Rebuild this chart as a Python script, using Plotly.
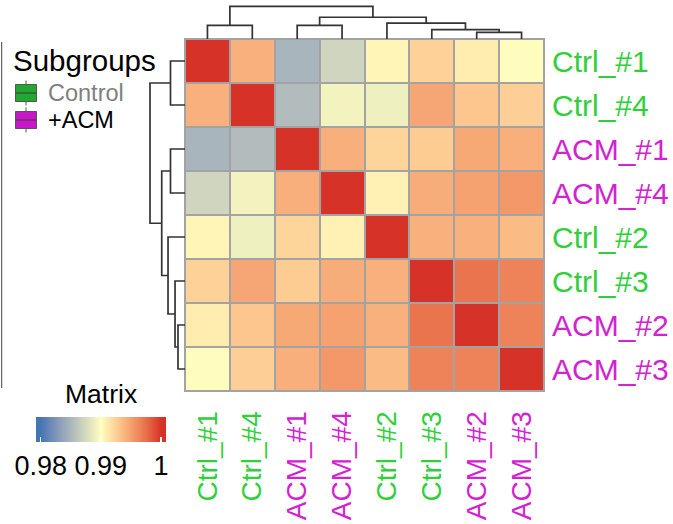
import plotly.graph_objects as go

# ---------------- data ----------------
samples = ["Ctrl_#1", "Ctrl_#4", "ACM_#1", "ACM_#4", "Ctrl_#2", "Ctrl_#3", "ACM_#2", "ACM_#3"]
groups = ["Control", "Control", "+ACM", "+ACM", "Control", "Control", "+ACM", "+ACM"]

corr = [
    [1.0000, 0.9941, 0.9849, 0.9871, 0.9905, 0.9924, 0.9910, 0.9901],
    [0.9941, 1.0000, 0.9854, 0.9892, 0.9890, 0.9947, 0.9930, 0.9925],
    [0.9849, 0.9854, 1.0000, 0.9942, 0.9922, 0.9927, 0.9946, 0.9942],
    [0.9871, 0.9892, 0.9942, 1.0000, 0.9907, 0.9943, 0.9949, 0.9954],
    [0.9905, 0.9890, 0.9922, 0.9907, 1.0000, 0.9941, 0.9941, 0.9936],
    [0.9924, 0.9947, 0.9927, 0.9943, 0.9941, 1.0000, 0.9972, 0.9965],
    [0.9910, 0.9930, 0.9946, 0.9949, 0.9941, 0.9972, 1.0000, 0.9965],
    [0.9901, 0.9925, 0.9942, 0.9954, 0.9936, 0.9965, 0.9965, 1.0000],
]

# dendrogram merges (left, right, height); ints = leaf index, "mN" = N-th merge
merges = [
    (0, 1, 0.415),
    (2, 3, 0.415),
    (6, 7, 0.20),
    (5, "m2", 0.285),
    (4, "m3", 0.485),
    ("m1", "m4", 0.665),
    ("m0", "m5", 1.0),
]

color_breaks = [0.98, 0.99, 1.0]
color_values = ["#4575B4", "#FFFFBF", "#D73027"]
legend_ticks = [0.98, 0.99, 1.0]
legend_ticktext = ["0.98", "0.99", "1"]
group_names = ["Control", "+ACM"]

# ---------------- styles ----------------
W, H = 673, 524
FONT = "Liberation Sans, Arial, sans-serif"
label_colors = {"Control": "#30D03A", "+ACM": "#D222D2"}
key_fill = {"Control": "#22A82E", "+ACM": "#C816C8"}
legend_text_color = {"Control": "#7F7F7F", "+ACM": "#000000"}
grid_color = "#A3A3A3"
dendro_color = "#333333"

hm_x0, hm_x1, hm_y0, hm_y1 = 185, 544, 39, 391
top_root_px, top_dom_px = 6.3, 4
left_root_px, left_dom_px = 150, 146

px = lambda v: v / W
py = lambda v: 1 - v / H


# ---------------- LAB colour ramp (like colorRamp2) ----------------
def hex2rgb(h):
    h = h.lstrip("#")
    return [int(h[i:i + 2], 16) / 255 for i in (0, 2, 4)]


def rgb2lab(rgb):
    lin = [c / 12.92 if c <= 0.04045 else ((c + 0.055) / 1.055) ** 2.4 for c in rgb]
    X = 0.4124 * lin[0] + 0.3576 * lin[1] + 0.1805 * lin[2]
    Y = 0.2126 * lin[0] + 0.7152 * lin[1] + 0.0722 * lin[2]
    Z = 0.0193 * lin[0] + 0.1192 * lin[1] + 0.9505 * lin[2]
    def f(t):
        return t ** (1 / 3) if t > 0.008856 else 7.787 * t + 16 / 116
    fx, fy, fz = f(X / 0.95047), f(Y / 1.0), f(Z / 1.08883)
    return [116 * fy - 16, 500 * (fx - fy), 200 * (fy - fz)]


def lab2rgb(lab):
    L, a, b = lab
    fy = (L + 16) / 116
    fx = fy + a / 500
    fz = fy - b / 200
    def finv(t):
        return t ** 3 if t ** 3 > 0.008856 else (t - 16 / 116) / 7.787
    X, Y, Z = finv(fx) * 0.95047, finv(fy), finv(fz) * 1.08883
    r = 3.2406 * X - 1.5372 * Y - 0.4986 * Z
    g = -0.9689 * X + 1.8758 * Y + 0.0415 * Z
    bb = 0.0557 * X - 0.2040 * Y + 1.0570 * Z
    out = []
    for c in (r, g, bb):
        c = 12.92 * c if c <= 0.0031308 else 1.055 * c ** (1 / 2.4) - 0.055
        out.append(min(255, max(0, round(c * 255))))
    return "rgb(%d,%d,%d)" % tuple(out)


labs = [rgb2lab(hex2rgb(c)) for c in color_values]


def ramp(v):
    v = min(max(v, color_breaks[0]), color_breaks[-1])
    for i in range(len(color_breaks) - 1):
        lo, hi = color_breaks[i], color_breaks[i + 1]
        if v <= hi:
            t = (v - lo) / (hi - lo)
            return lab2rgb([labs[i][k] + t * (labs[i + 1][k] - labs[i][k]) for k in range(3)])
    return lab2rgb(labs[-1])


bar_x0 = 36
bar_len_px = 129.7
bar_top = 416.7
tick_span_px = 120.0  # distance between first and last legend tick
unit = (legend_ticks[-1] - legend_ticks[0]) / tick_span_px
pad_px = (bar_len_px - tick_span_px) / 2
zmin = legend_ticks[0] - pad_px * unit
zmax = legend_ticks[-1] + pad_px * unit
N = 60
colorscale = [[i / N, ramp(zmin + (zmax - zmin) * i / N)] for i in range(N + 1)]


# ---------------- dendrogram segments ----------------
def dendro(merges):
    pos, hgt = {}, {}
    xs, ys = [], []
    def get(k):
        if isinstance(k, int):
            return float(k), 0.0
        return pos[k], hgt[k]
    for i, (a, b, h) in enumerate(merges):
        pa, ha = get(a)
        pb, hb = get(b)
        xs += [pa, pa, pb, pb, None]
        ys += [ha, h, h, hb, None]
        pos["m%d" % i] = (pa + pb) / 2
        hgt["m%d" % i] = h
    return xs, ys


d_pos, d_h = dendro(merges)
root_h = max(m[2] for m in merges)
idx = list(range(len(samples)))

fig = go.Figure()
fig.add_trace(go.Heatmap(
    z=corr, x=idx, y=idx, zmin=zmin, zmax=zmax, colorscale=colorscale,
    xgap=2, ygap=2, hoverinfo="skip",
    colorbar=dict(
        orientation="h", x=px(bar_x0 + bar_len_px / 2), xanchor="center",
        y=py(bar_top), yanchor="top", len=bar_len_px, lenmode="pixels",
        thickness=25, thicknessmode="pixels", outlinewidth=0, xpad=0, ypad=0,
        tickvals=legend_ticks, ticktext=legend_ticktext, ticks="inside",
        ticklen=5, tickwidth=1.5, tickcolor="white",
        tickfont=dict(size=27, color="black", family=FONT),
    ),
))
fig.add_trace(go.Scatter(x=d_pos, y=d_h, xaxis="x", yaxis="y2", mode="lines",
                         line=dict(color=dendro_color, width=1.7), hoverinfo="skip",
                         showlegend=False))
fig.add_trace(go.Scatter(x=d_h, y=d_pos, xaxis="x3", yaxis="y", mode="lines",
                         line=dict(color=dendro_color, width=1.7), hoverinfo="skip",
                         showlegend=False))

ticktext = ["<span style='color:%s'>%s</span>" % (label_colors[g], s)
            for s, g in zip(samples, groups)]

fig.update_layout(
    width=W, height=H, margin=dict(l=0, r=0, t=0, b=0, autoexpand=False),
    paper_bgcolor="white", plot_bgcolor="white",
    font=dict(family=FONT, color="black"),
    showlegend=False,
    xaxis=dict(domain=[px(hm_x0), px(hm_x1)], range=[-0.5, len(samples) - 0.5],
               tickvals=idx, ticktext=ticktext, tickangle=-90,
               ticks="outside", ticklen=8, tickcolor="rgba(0,0,0,0)",
               tickfont=dict(size=28, family=FONT), automargin=False,
               showgrid=False, zeroline=False, showline=False, anchor="y", fixedrange=True),
    yaxis=dict(domain=[py(hm_y1), py(hm_y0)], range=[len(samples) - 0.5, -0.5],
               side="right", tickvals=idx, ticktext=ticktext,
               ticks="outside", ticklen=1, tickcolor="rgba(0,0,0,0)",
               tickfont=dict(size=30, family=FONT), automargin=False,
               showgrid=False, zeroline=False, showline=False, anchor="x", fixedrange=True),
    yaxis2=dict(domain=[py(hm_y0), py(top_dom_px)],
                range=[0, root_h * (hm_y0 - top_dom_px) / (hm_y0 - top_root_px)],
                visible=False, anchor="x", fixedrange=True),
    xaxis3=dict(domain=[px(left_dom_px), px(hm_x0)],
                range=[root_h * (hm_x0 - left_dom_px) / (hm_x0 - left_root_px), 0],
                visible=False, anchor="y", fixedrange=True),
)

shapes = [
    dict(type="rect", xref="x domain", yref="y domain", x0=0, x1=1, y0=0, y1=1,
         fillcolor=grid_color, line=dict(color=grid_color, width=2), layer="below"),
    dict(type="line", xref="paper", yref="paper", x0=px(1.7), x1=px(1.7),
         y0=py(42), y1=py(388), line=dict(color="#444444", width=1)),
]
# top white ticks on colour bar
for v in legend_ticks:
    xx = bar_x0 + (v - zmin) / (zmax - zmin) * bar_len_px
    shapes.append(dict(type="line", xref="paper", yref="paper", x0=px(xx), x1=px(xx),
                       y0=py(bar_top), y1=py(bar_top + 5), line=dict(color="white", width=1.5)))

annotations = [
    dict(text="Subgroups", x=px(11), y=py(60.5), xref="paper", yref="paper",
         xanchor="left", yanchor="middle", showarrow=False, font=dict(size=29.5)),
    dict(text="Matrix", x=px(100.85), y=py(394), xref="paper", yref="paper",
         xanchor="center", yanchor="middle", showarrow=False, font=dict(size=26.5)),
]
key_centers = [93, 120]
for g, cy in zip(group_names, key_centers):
    shapes.append(dict(type="line", xref="paper", yref="paper", x0=px(26), x1=px(26),
                       y0=py(cy - 12.5), y1=py(cy + 12.5), line=dict(color="#555555", width=1)))
    shapes.append(dict(type="rect", xref="paper", yref="paper", x0=px(15.5), x1=px(36.5),
                       y0=py(cy - 8.5), y1=py(cy + 8.5), fillcolor=key_fill[g],
                       line=dict(color="#555555", width=1)))
    shapes.append(dict(type="line", xref="paper", yref="paper", x0=px(15.5), x1=px(36.5),
                       y0=py(cy), y1=py(cy), line=dict(color="#444444", width=1.2)))
    annotations.append(dict(text=g, x=px(46), y=py(cy - 0.5), xref="paper", yref="paper",
                            xanchor="left", yanchor="middle", showarrow=False,
                            font=dict(size=23.5, color=legend_text_color[g])))

fig.update_layout(shapes=shapes, annotations=annotations)
fig.write_html("out.html", config={"displayModeBar": False, "staticPlot": True},
               post_script="document.body.style.margin='0';document.body.style.overflow='hidden';")
